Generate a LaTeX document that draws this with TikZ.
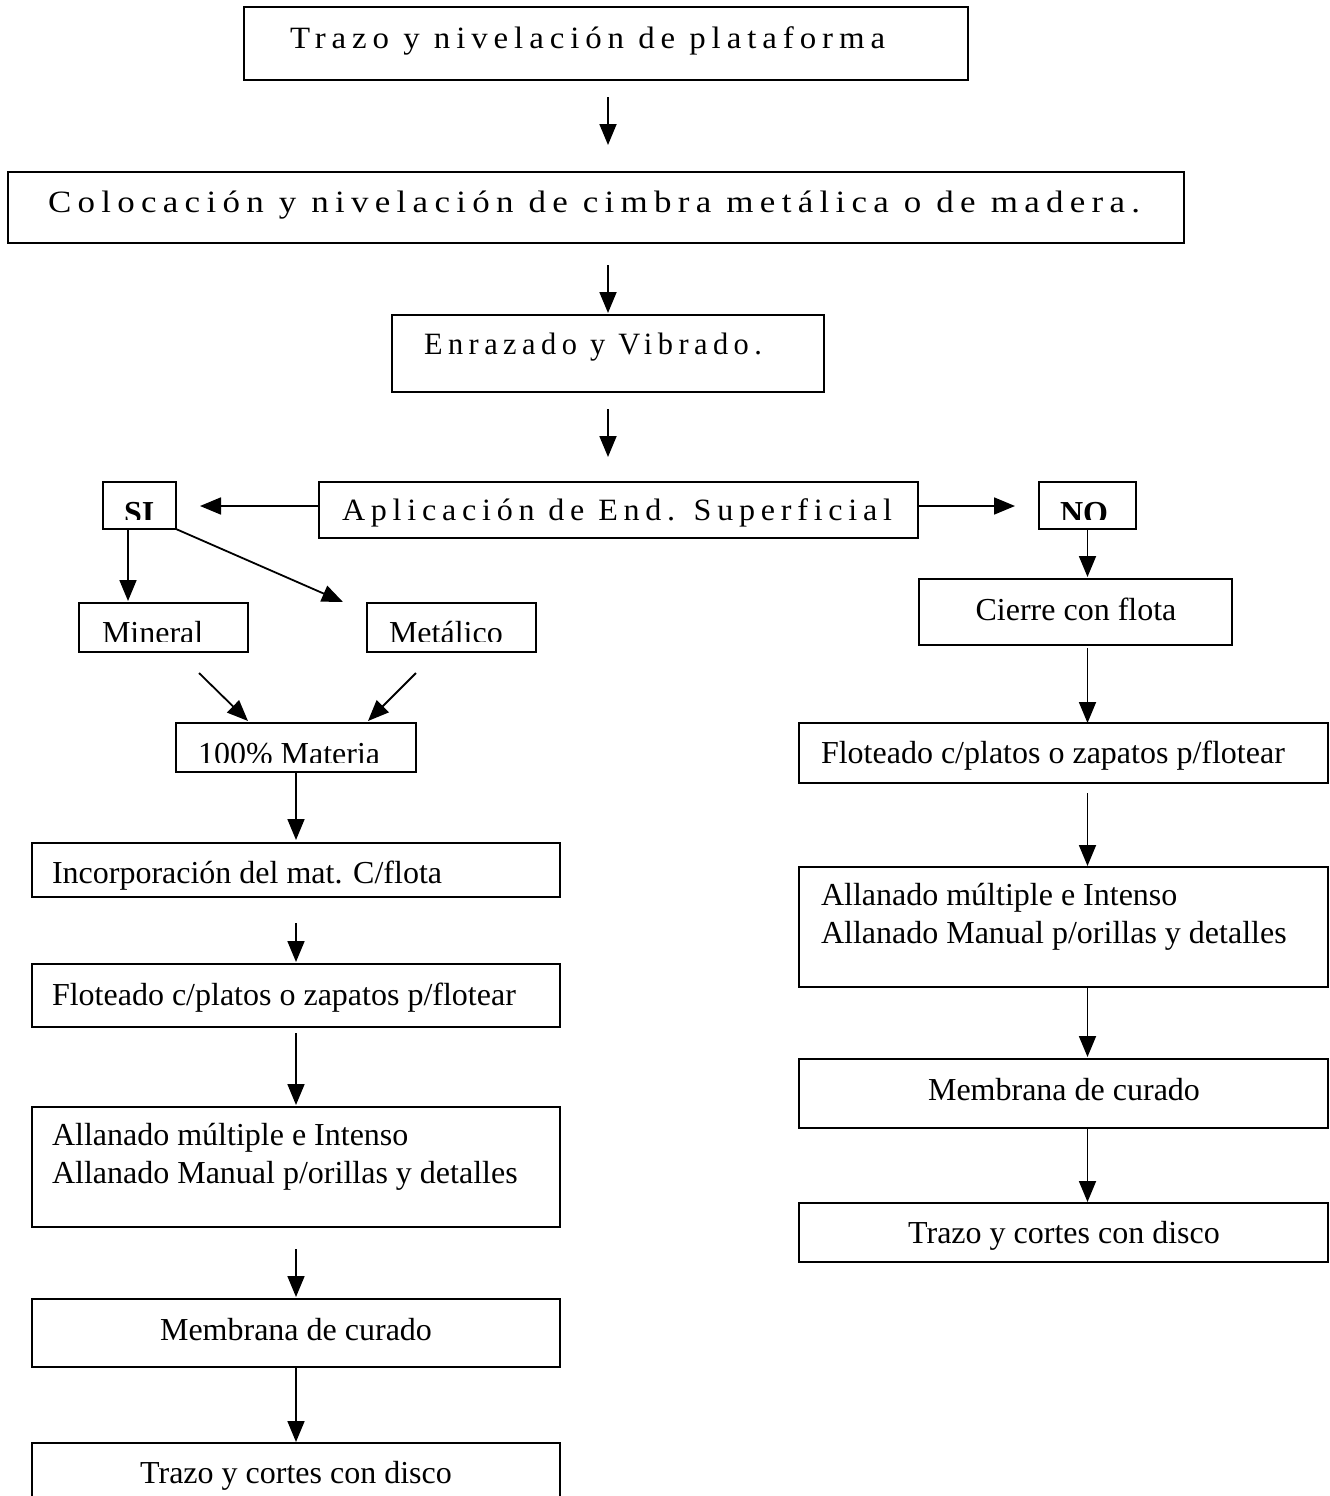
\documentclass[tikz,border=0pt]{standalone}
\usepackage{fontspec}
\setmainfont{Liberation Serif}
\newfontfamily\spacedfont[LetterSpace=18]{Liberation Serif}
\usetikzlibrary{arrows.meta}
\newcommand{\flowbox}[5]{\node[box, minimum width={(#4-#2)*1pt}, minimum height={(#5-#3)*1pt}] (#1) at ({(#2+#4)/2},{(#3+#5)/2}) {};}
\begin{document}
\begin{tikzpicture}[x=1pt,y=-1pt,
  box/.style={draw, line width=1.8pt, inner sep=0pt, outer sep=0pt},
  txt/.style={inner sep=0pt, outer sep=0pt, font=\fontsize{32}{37}\selectfont},
  stxt/.style={inner sep=0pt, outer sep=0pt, font=\fontsize{31}{36}\selectfont\spacedfont},
  btxt/.style={inner sep=0pt, outer sep=0pt, font=\fontsize{32}{37}\selectfont\bfseries},
  arr/.style={line width=1.8pt, -{Triangle[length=21pt,width=17pt]}}]
\fill[white] (0,0) rectangle (1330,1496);
\useasboundingbox (0,0) rectangle (1330,1496);

% ---- main column boxes
\flowbox{b1}{244}{7}{968}{80}
\flowbox{b2}{8}{172}{1184}{243}
\flowbox{b3}{392}{315}{824}{392}
\flowbox{b4}{319}{482}{918}{538}
\node[stxt, anchor=base west] (t1) at (290,49) {\resizebox{595pt}{\height}{Trazo y nivelación de plataforma}};
\node[stxt, anchor=base west] (t2) at (48,212) {\resizebox{1092pt}{\height}{Colocación y nivelación de cimbra metálica o de madera.}};
\node[stxt, anchor=base west] (t3) at (424,354) {\resizebox{338pt}{\height}{Enrazado y Vibrado.}};
\node[stxt, anchor=base west] (t4) at (342,520) {\resizebox{550pt}{\height}{Aplicación de End. Superficial}};

% ---- SI / NO
\flowbox{si}{103}{482}{176}{529}
\flowbox{no}{1039}{482}{1136}{529}
\begin{scope}
  \clip (104,483) rectangle (175,519.5);
  \node[btxt, anchor=base west] (tsi) at (124,523) {SI};
\end{scope}
\begin{scope}
  \clip (1040,483) rectangle (1135,519.5);
  \node[btxt, anchor=base west] (tno) at (1060,523) {NO};
\end{scope}

% ---- left branch upper boxes
\flowbox{mi}{79}{603}{248}{652}
\flowbox{me}{367}{603}{536}{652}
\flowbox{ma}{176}{723}{416}{772}
\begin{scope}
  \clip (80,604) rectangle (247,641.5);
  \node[txt, anchor=base west] (tmi) at (102,643.5) {Mineral};
\end{scope}
\begin{scope}
  \clip (368,590) rectangle (535,641.5);
  \node[txt, anchor=base west] (tme) at (389,643.5) {Metálico};
\end{scope}
\begin{scope}
  \clip (177,724) rectangle (415,762);
  \node[txt, anchor=base west] (tma) at (198,764) {100\% Materia};
\end{scope}

% ---- left column
\flowbox{inc}{32}{843}{560}{897}
\flowbox{fl}{32}{964}{560}{1027}
\flowbox{al}{32}{1107}{560}{1227}
\flowbox{ml}{32}{1299}{560}{1367}
\flowbox{tl}{32}{1443}{560}{1530}
\node[txt, anchor=base west] (tinc) at (52,883) {Incorporación del mat. C/flota};
\node[txt, anchor=base west] (tfl) at (52,1005) {Floteado c/platos o zapatos p/flotear};
\node[txt, anchor=base west] (tal1) at (52,1145) {Allanado múltiple e Intenso};
\node[txt, anchor=base west] (tal2) at (52,1183) {Allanado Manual p/orillas y detalles};
\node[txt, anchor=base] (tml) at (296,1340) {Membrana de curado};
\node[txt, anchor=base] (ttl) at (296,1483) {Trazo y cortes con disco};

% ---- right column
\flowbox{ci}{919}{579}{1232}{645}
\flowbox{fr}{799}{723}{1328}{783}
\flowbox{ar}{799}{867}{1328}{987}
\flowbox{mr}{799}{1059}{1328}{1128}
\flowbox{tr}{799}{1203}{1328}{1262}
\node[txt, anchor=base] (tci) at (1076,620) {Cierre con flota};
\node[txt, anchor=base west] (tfr) at (821,763) {Floteado c/platos o zapatos p/flotear};
\node[txt, anchor=base west] (tar1) at (821,905) {Allanado múltiple e Intenso};
\node[txt, anchor=base west] (tar2) at (821,943) {Allanado Manual p/orillas y detalles};
\node[txt, anchor=base] (tmr) at (1064,1100) {Membrana de curado};
\node[txt, anchor=base] (ttr) at (1064,1243) {Trazo y cortes con disco};

% ---- free-end coordinates
\coordinate (dtip) at (343,602);
\coordinate (mis) at (199,673);
\coordinate (mit) at (248,721);
\coordinate (mes) at (416,673);
\coordinate (met) at (368,721);

% ---- connectors main column
\draw[arr, shorten <=17pt, shorten >=27pt] ([xshift=2pt]b1.south) -- ([xshift=2pt]b1.south |- b2.north);
\draw[arr, shorten <=22pt, shorten >=2pt] (b3.north |- b2.south) -- (b3.north);
\draw[arr, shorten <=17pt, shorten >=25pt] (b3.south) -- (b3.south |- b4.north);
\draw[arr, shorten >=24pt] ([yshift=4pt]b4.west) -- ([yshift=4pt]b4.west -| si.east);
\draw[arr, shorten >=24pt] ([yshift=4pt]b4.east) -- ([yshift=4pt]b4.east -| no.west);

% ---- left branch
\draw[arr, shorten >=2pt] ([xshift=-11.5pt]si.south) -- ([xshift=-11.5pt]si.south |- mi.north);
\draw[arr] (si.south east) -- (dtip);
\draw[arr] (mis) -- (mit);
\draw[arr] (mes) -- (met);
\draw[arr, shorten >=3pt] (ma.south) -- (inc.north);
\draw[arr, shorten <=26pt, shorten >=2pt] (inc.south) -- (fl.north);
\draw[arr, shorten <=6pt, shorten >=2pt] (fl.south) -- (al.north);
\draw[arr, shorten <=22pt, shorten >=2pt] (al.south) -- (ml.north);
\draw[arr, shorten <=1pt, shorten >=1pt] (ml.south) -- (tl.north);

% ---- right branch
\draw[arr, shorten >=2pt] (no.south) -- (no.south |- ci.north);
\draw[arr, shorten <=3pt] (no.south |- ci.south) -- (no.south |- fr.north);
\draw[arr, shorten <=10pt, shorten >=1pt] (no.south |- fr.south) -- (no.south |- ar.north);
\draw[arr, shorten >=2pt] (no.south |- ar.south) -- (no.south |- mr.north);
\draw[arr, shorten >=1pt] (no.south |- mr.south) -- (no.south |- tr.north);
\end{tikzpicture}
\end{document}
